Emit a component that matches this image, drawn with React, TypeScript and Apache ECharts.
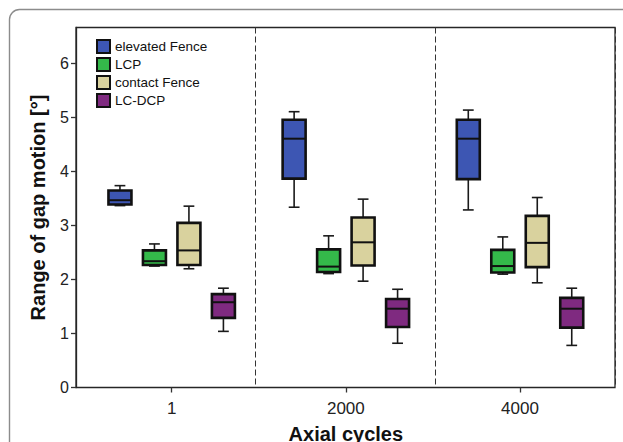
import React, { useEffect, useRef } from "react";
import * as echarts from "echarts";

const categories = ["1", "2000", "4000"];
const seriesNames = ["elevated Fence", "LCP", "contact Fence", "LC-DCP"];
const seriesColors = ["#3d56b3", "#34b94a", "#d9d29e", "#7f2a80"];
// [min, Q1, median, Q3, max] per category
const elevatedFence = [
  [3.37, 3.39, 3.47, 3.65, 3.74],
  [3.34, 3.87, 4.61, 4.96, 5.11],
  [3.29, 3.86, 4.61, 4.96, 5.14],
];
const lcp = [
  [2.25, 2.27, 2.34, 2.54, 2.66],
  [2.11, 2.14, 2.24, 2.56, 2.81],
  [2.1, 2.13, 2.25, 2.55, 2.79],
];
const contactFence = [
  [2.2, 2.27, 2.54, 3.05, 3.36],
  [1.97, 2.26, 2.69, 3.15, 3.49],
  [1.94, 2.23, 2.68, 3.18, 3.52],
];
const lcDcp = [
  [1.04, 1.29, 1.58, 1.73, 1.84],
  [0.82, 1.12, 1.46, 1.64, 1.82],
  [0.78, 1.11, 1.46, 1.66, 1.84],
];
const yTicks = [0, 1, 2, 3, 4, 5, 6];
const yMax = 6.67;

const allSeries = [elevatedFence, lcp, contactFence, lcDcp];
const FONT = "'Liberation Sans', Arial, Helvetica, sans-serif";

function makeRender(k: number, color: string) {
  return (params: any, api: any) => {
    const idx = api.value(0);
    const band = api.size([1, 0])[0];
    const off = (k - 1.5) * band * 0.198;
    const boxW = band * 0.132;
    const capW = band * 0.062;
    const cx = api.coord([idx, 0])[0] + off;
    const yMin = api.coord([idx, api.value(1)])[1];
    const yQ1 = api.coord([idx, api.value(2)])[1];
    const yMed = api.coord([idx, api.value(3)])[1];
    const yQ3 = api.coord([idx, api.value(4)])[1];
    const yMx = api.coord([idx, api.value(5)])[1];
    const wStyle = { stroke: "#1a1a1a", lineWidth: 1.6 };
    return {
      type: "group",
      children: [
        { type: "line", shape: { x1: cx, y1: yMx, x2: cx, y2: yQ3 }, style: wStyle },
        { type: "line", shape: { x1: cx - capW / 2, y1: yMx, x2: cx + capW / 2, y2: yMx }, style: wStyle },
        { type: "line", shape: { x1: cx, y1: yQ1, x2: cx, y2: yMin }, style: wStyle },
        { type: "line", shape: { x1: cx - capW / 2, y1: yMin, x2: cx + capW / 2, y2: yMin }, style: wStyle },
        {
          type: "rect",
          shape: { x: cx - boxW / 2, y: yQ3, width: boxW, height: yQ1 - yQ3 },
          style: { fill: color, stroke: "#111", lineWidth: 2.6 },
        },
        {
          type: "line",
          shape: { x1: cx - boxW / 2, y1: yMed, x2: cx + boxW / 2, y2: yMed },
          style: { stroke: "#111", lineWidth: 2 },
        },
      ],
    };
  };
}

export default function App() {
  const ref = useRef<HTMLDivElement>(null);
  useEffect(() => {
    if (!ref.current) return;
    const chart = echarts.init(ref.current, null, { renderer: "svg" });
    const series = allSeries.map((arr, k) => ({
      type: "custom",
      name: seriesNames[k],
      xAxisIndex: 1,
      yAxisIndex: 1,
      itemStyle: { color: seriesColors[k], borderColor: "#111", borderWidth: 2 },
      encode: { x: 0, y: [1, 2, 3, 4, 5] },
      renderItem: makeRender(k, seriesColors[k]),
      data: arr.map((v, i) => [i, ...v]),
    }));
    chart.setOption({
      animation: false,
      backgroundColor: "#ffffff",
      textStyle: { fontFamily: FONT },
      graphic: [
        {
          type: "rect",
          shape: { x: 9.5, y: 9.5, width: 700, height: 600, r: 10 },
          style: { fill: "none", stroke: "#8c8c8c", lineWidth: 1.4 },
          silent: true,
        },
      ],
      legend: {
        orient: "vertical",
        left: 96,
        top: 39,
        padding: 0,
        icon: "rect",
        itemWidth: 13,
        itemHeight: 13,
        itemGap: 3,
        itemStyle: { borderColor: "#111", borderWidth: 2 },
        textStyle: { fontSize: 13.5, lineHeight: 13.5, color: "#111", fontFamily: FONT },
        data: seriesNames,
      },
      grid: [
        { left: 76, right: 8, top: 27.5, bottom: 54.5, show: true, borderColor: "#262626", borderWidth: 1.3, outerBoundsMode: "none", containLabel: false },
        { left: 84.6, right: 15.9, top: 27.5, bottom: 54.5, outerBoundsMode: "none", containLabel: false },
      ],
      xAxis: [
        {
          type: "value",
          gridIndex: 0,
          min: 0,
          max: 3,
          interval: 1,
          axisLine: { show: false },
          axisTick: { show: false },
          axisLabel: { show: false },
          splitLine: { show: true, lineStyle: { color: "#333", width: 1, type: [6, 3] } },
        },
        {
          type: "category",
          gridIndex: 1,
          data: categories,
          boundaryGap: true,
          axisLine: { show: false },
          axisTick: { show: true, alignWithLabel: true, length: 5, lineStyle: { color: "#333", width: 1.3 } },
          axisLabel: { fontSize: 17, color: "#222", margin: 12, fontFamily: FONT },
          splitLine: { show: false },
          name: "Axial cycles",
          nameLocation: "middle",
          nameGap: 36,
          nameTextStyle: { fontSize: 20, fontWeight: "bold", color: "#111", fontFamily: FONT },
        },
      ],
      yAxis: [
        {
          type: "value",
          gridIndex: 0,
          min: 0,
          max: yMax,
          interval: 1,
          axisLine: { show: true, lineStyle: { color: "#262626", width: 1.3 } },
          axisTick: { show: true, length: 5, customValues: yTicks, lineStyle: { color: "#333", width: 1.3 } },
          axisLabel: { customValues: yTicks, fontSize: 16, color: "#222", margin: 7, fontFamily: FONT },
          splitLine: { show: false },
          name: "Range of gap motion [°]",
          nameLocation: "middle",
          nameGap: 28,
          nameTextStyle: { fontSize: 20, fontWeight: "bold", color: "#111", fontFamily: FONT },
        },
        {
          type: "value",
          gridIndex: 1,
          min: 0,
          max: yMax,
          show: false,
          splitLine: { show: false },
        },
      ],
      series,
    });
    return () => chart.dispose();
  }, []);
  return (
    <div
      ref={ref}
      style={{ position: "fixed", left: 0, top: 0, width: 623, height: 442 }}
    />
  );
}
